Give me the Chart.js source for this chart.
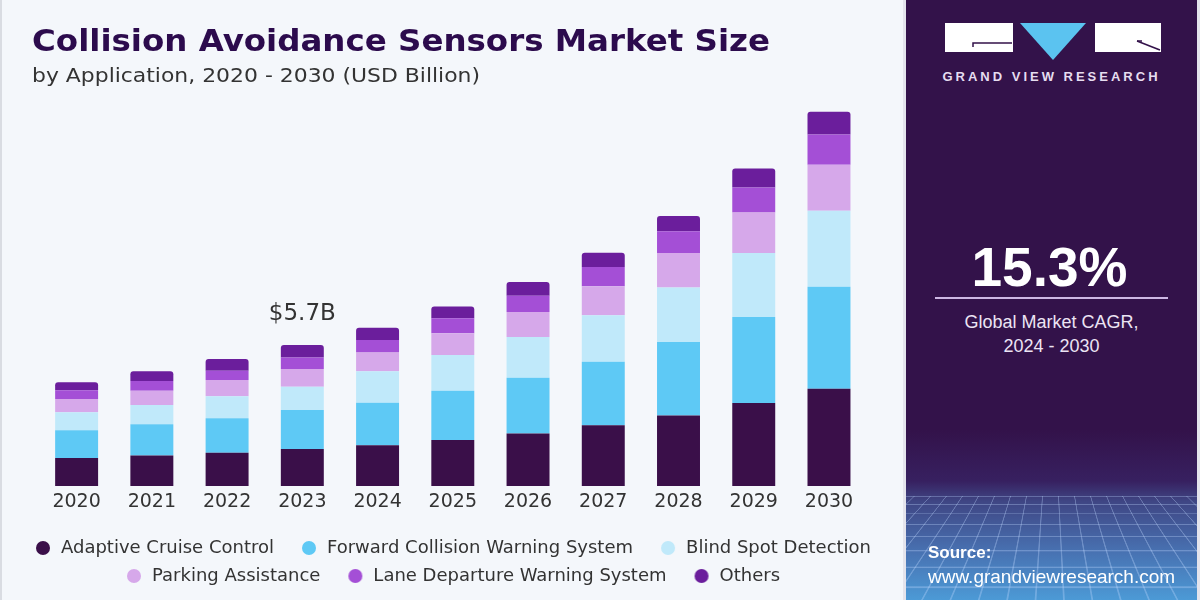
<!DOCTYPE html>
<html>
<head>
<meta charset="utf-8">
<script src="https://cdn.jsdelivr.net/npm/chart.js@4.4.0/dist/chart.umd.min.js"></script>
<style>
html,body{margin:0;padding:0;}
body{width:1200px;height:600px;position:relative;overflow:hidden;background:#f4f7fb;font-family:"Liberation Sans",Arial,sans-serif;}
#leftEdge{position:absolute;left:0;top:0;width:2px;height:600px;background:#d9dce2;}
#chartWrap{position:absolute;left:0;top:0;width:905px;height:600px;}
#title{position:absolute;left:32px;top:24px;font:bold 30px/34px "DejaVu Sans";color:#2c0b4d;white-space:nowrap;transform-origin:0 0;}
#subtitle{position:absolute;left:32px;top:63px;font:19px/24px "DejaVu Sans";color:#333;white-space:nowrap;transform-origin:0 0;}
#sep{position:absolute;left:903px;top:0;width:3px;height:600px;background:#e4e4ec;}
#panel{position:absolute;left:906px;top:0;width:291px;height:600px;background:#33124a;overflow:hidden;}
#rightEdge{position:absolute;left:1197px;top:0;width:3px;height:600px;background:#e4e4ec;}
#grid{position:absolute;left:0;top:430px;width:291px;height:170px;background:linear-gradient(#33124a 0%,#372060 30%,#3f4684 42%,#4872b2 72%,#4c9ad6 100%);overflow:hidden;}
#gridLines{position:absolute;left:-200px;top:66px;width:691px;height:160px;
 background-image:linear-gradient(rgba(190,215,255,.33) 1px,transparent 1px),linear-gradient(90deg,rgba(190,215,255,.33) 1px,transparent 1px);
 background-size:16px 12px;transform:perspective(160px) rotateX(50deg);transform-origin:50% 0;}
.ptxt{position:absolute;left:0;width:291px;text-align:center;color:#ece4f4;white-space:nowrap;}
#brand{top:70px;font:bold 13px/14px "Liberation Sans";letter-spacing:3px;color:#e6ddf0;left:0px;}
#cagr{top:236px;font:bold 55px/62px "Liberation Sans";color:#fff;left:-2px;}
#hr{position:absolute;left:29px;top:297px;width:233px;height:2px;background:#cdb7e4;}
#cagrl1{top:311px;font:18px/22px "Liberation Sans";}
#cagrl2{top:335px;font:18px/22px "Liberation Sans";}
#src{position:absolute;left:22px;top:543px;font:bold 17px/20px "Liberation Sans";color:#fff;}
#url{position:absolute;left:22px;top:566px;font:19px/22px "Liberation Sans";color:#fff;white-space:nowrap;}
</style>
</head>
<body>
<div id="leftEdge"></div>
<div id="chartWrap"><canvas id="c" width="905" height="600"></canvas></div>
<div id="title">Collision Avoidance Sensors Market Size</div>
<div id="subtitle">by Application, 2020 - 2030 (USD Billion)</div>
<div id="sep"></div>
<div id="panel">
  <svg style="position:absolute;left:0;top:0" width="291" height="70">
    <rect x="39" y="23" width="68" height="29" fill="#ffffff"/>
    <polyline points="67,47 67,43 106,43" fill="none" stroke="#33124a" stroke-width="1.5"/>
    <polygon points="114,23 180,23 147,60" fill="#5bc3f0"/>
    <rect x="189" y="23" width="66" height="29" fill="#ffffff"/>
    <polyline points="231,41 254,50" fill="none" stroke="#33124a" stroke-width="1.5"/>
    <polyline points="231,41 236,41" fill="none" stroke="#33124a" stroke-width="1.5"/>
  </svg>
  <div class="ptxt" id="brand">GRAND VIEW RESEARCH</div>
  <div class="ptxt" id="cagr">15.3%</div>
  <div id="hr"></div>
  <div class="ptxt" id="cagrl1">Global Market CAGR,</div>
  <div class="ptxt" id="cagrl2">2024 - 2030</div>
  <div id="grid"><div id="gridLines"></div></div>
  <div id="src">Source:</div>
  <div id="url">www.grandviewresearch.com</div>
</div>
<div id="rightEdge"></div>
<script>
// ---- data ----
const years = ['2020','2021','2022','2023','2024','2025','2026','2027','2028','2029','2030'];
const seriesNames = ['Adaptive Cruise Control','Forward Collision Warning System','Blind Spot Detection','Parking Assistance','Lane Departure Warning System','Others'];
const adaptiveCruise   = [1.13,1.24,1.35,1.50,1.65,1.86,2.13,2.46,2.86,3.36,3.94];
const forwardCollision = [1.13,1.26,1.39,1.58,1.72,2.00,2.25,2.57,2.97,3.49,4.13];
const blindSpot        = [0.73,0.78,0.90,0.94,1.28,1.45,1.66,1.89,2.21,2.59,3.08];
const parkingAssist    = [0.53,0.58,0.65,0.72,0.76,0.88,1.01,1.17,1.40,1.64,1.86];
const laneDeparture    = [0.36,0.39,0.38,0.47,0.50,0.61,0.66,0.78,0.88,1.01,1.23];
const others           = [0.32,0.40,0.47,0.50,0.50,0.47,0.55,0.58,0.62,0.77,0.92];
const annotationYear = '2023';
const annotationText = '$5.7B';
const yMax = 16;

const seriesValues = [adaptiveCruise, forwardCollision, blindSpot, parkingAssist, laneDeparture, others];
const colors = ['#3a0f49','#5ec9f5','#c0e9fa','#d6a8ea','#a44fd6','#6b1e9c'];

// fit html titles
function fitWidth(id, w){ const el=document.getElementById(id); const r=el.getBoundingClientRect().width; el.style.transform='scaleX('+(w/r)+')'; }
fitWidth('title', 738);
fitWidth('subtitle', 448);

// legend marker images (circle with leading space)
const MW = 34, MH = 16;
function marker(color){
  const cv = document.createElement('canvas'); cv.width = MW; cv.height = MH;
  const g = cv.getContext('2d'); g.fillStyle = color; g.beginPath(); g.arc(25, MH/2, 7, 0, Math.PI*2); g.fill();
  return cv;
}
const markers = colors.map(marker);

const annotationPlugin = {
  id: 'annot',
  afterDatasetsDraw(chart){
    const i = years.indexOf(annotationYear);
    let total = 0; seriesValues.forEach(s => total += s[i]);
    const x = chart.scales.x.getPixelForValue(i);
    const y = chart.scales.y.getPixelForValue(total);
    const ctx = chart.ctx; ctx.save();
    ctx.font = '23px "DejaVu Sans"'; ctx.fillStyle = '#333'; ctx.textAlign = 'center'; ctx.textBaseline = 'middle';
    ctx.fillText(annotationText, x, y - 31);
    ctx.restore();
  }
};

new Chart(document.getElementById('c'), {
  type: 'bar',
  data: {
    labels: years,
    datasets: seriesNames.map((n, k) => ({
      label: n, data: seriesValues[k], backgroundColor: colors[k], borderWidth: 0,
      borderRadius: 3, categoryPercentage: 1, barPercentage: 0.571
    }))
  },
  options: {
    responsive: false, animation: false, devicePixelRatio: 1,
    layout: { padding: { left: 0, right: 16, top: 91, bottom: 5 } },
    scales: {
      x: { stacked: true, grid: { display: false, drawTicks: false }, border: { display: false },
           ticks: { color: '#333', font: { family: 'DejaVu Sans', size: 19 }, padding: 5, maxRotation: 0 },
           afterFit(s){ s.height = 43; } },
      y: { stacked: true, min: 0, max: yMax, display: true, grid: { display: false, drawTicks: false }, border: { display: false },
           ticks: { display: false }, afterFit(s){ s.width = 39; } },
      yr: { position: 'right', display: true, grid: { display: false, drawTicks: false }, border: { display: false },
           ticks: { display: false }, afterFit(s){ s.width = 22.4; } }
    },
    plugins: {
      tooltip: { enabled: false },
      legend: {
        position: 'bottom',
        labels: {
          usePointStyle: true, pointStyleWidth: MW, boxHeight: 14, padding: 10,
          color: '#333', font: { family: 'DejaVu Sans', size: 18 },
          generateLabels(chart){
            const items = Chart.defaults.plugins.legend.labels.generateLabels(chart);
            items.forEach((it, i) => { it.pointStyle = markers[i]; });
            return items;
          }
        }
      }
    }
  },
  plugins: [annotationPlugin]
});
</script>
</body>
</html>
